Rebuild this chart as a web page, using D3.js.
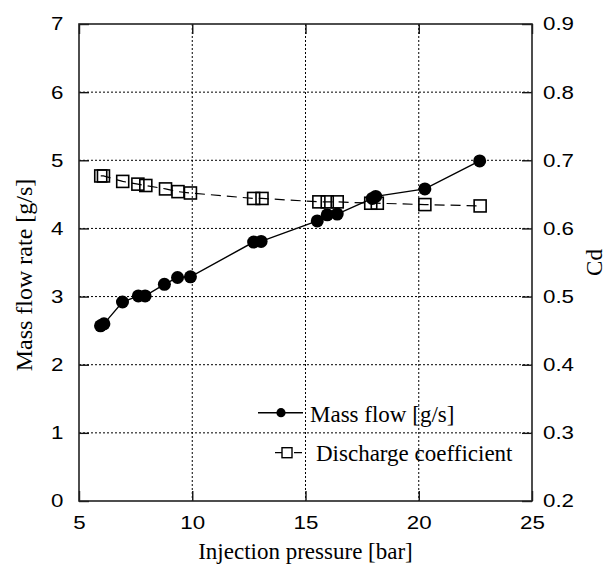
<!DOCTYPE html>
<html>
<head>
<meta charset="utf-8">
<script src="https://cdn.jsdelivr.net/npm/d3@7"></script>
<style>
  html, body { margin: 0; padding: 0; background: #fff; }
  svg { display: block; }
</style>
</head>
<body>
<svg id="chart" width="607" height="564"></svg>
<script>
// ---- data ----
const pressureMass = [5.95, 6.1, 6.92, 7.62, 7.92, 8.77, 9.35, 9.92, 12.71, 13.04, 15.52, 15.96, 16.40, 17.95, 18.10, 20.27, 22.69];
const massFlow     = [2.57, 2.60, 2.92, 3.01, 3.01, 3.18, 3.28, 3.29, 3.80, 3.81, 4.11, 4.20, 4.21, 4.44, 4.47, 4.58, 4.99];
const pressureCd   = [5.96, 6.08, 6.93, 7.60, 7.95, 8.82, 9.37, 9.92, 12.71, 13.08, 15.59, 15.96, 16.40, 17.88, 18.17, 20.27, 22.71];
const dischargeCd  = [0.677, 0.677, 0.669, 0.665, 0.663, 0.658, 0.654, 0.652, 0.644, 0.644, 0.639, 0.639, 0.639, 0.637, 0.637, 0.635, 0.633];
const xTicks  = [5, 10, 15, 20, 25];
const yTicks  = [0, 1, 2, 3, 4, 5, 6, 7];
const y2Ticks = [0.2, 0.3, 0.4, 0.5, 0.6, 0.7, 0.8, 0.9];
const seriesNames = ["Mass flow [g/s]", "Discharge coefficient"];
const xTitle = "Injection pressure [bar]";
const yTitle = "Mass flow rate [g/s]";
const y2Title = "Cd";

// ---- layout ----
const L = 79, R = 532, T = 24, B = 501;
const svg = d3.select("#chart");
const x = d3.scaleLinear().domain([5, 25]).range([L, R]);
const y = d3.scaleLinear().domain([0, 7]).range([B, T]);
const y2 = d3.scaleLinear().domain([0.2, 0.9]).range([B, T]);

const SX = 1.2; // horizontal stretch of tick label glyphs
const tickFont = "'Liberation Sans', Arial, Helvetica, sans-serif";
const serif = "'Liberation Serif', 'Times New Roman', Times, serif";

// grid lines
const grid = svg.append("g").attr("stroke", "#000").attr("stroke-width", 1).attr("stroke-dasharray", "2,2");
grid.selectAll("line.gx").data(xTicks.slice(1, -1)).join("line")
  .attr("x1", d => x(d)).attr("x2", d => x(d)).attr("y1", T).attr("y2", B);
grid.selectAll("line.gy").data(yTicks.slice(1, -1)).join("line")
  .attr("x1", L).attr("x2", R).attr("y1", d => y(d)).attr("y2", d => y(d));

// axes
function styleAxis(g) {
  g.select(".domain").remove();
  g.selectAll(".tick line").attr("stroke", "#111").attr("stroke-width", 1.4);
  g.selectAll(".tick text").attr("fill", "#000")
    .style("font-family", tickFont).style("font-size", "18.6px");
}
const gx = svg.append("g").attr("transform", `translate(0,${B})`)
  .call(d3.axisBottom(x).tickValues(xTicks).tickFormat(d3.format("d")).tickSize(-10).tickPadding(15))
  .call(styleAxis);
gx.selectAll(".tick text").attr("transform", `scale(${SX},1)`);

svg.append("g").attr("transform", `translate(0,${T})`)
  .call(d3.axisTop(x).tickValues(xTicks).tickSize(-10).tickFormat(""))
  .call(styleAxis);

const gy = svg.append("g").attr("transform", `translate(${L},0)`)
  .call(d3.axisLeft(y).tickValues(yTicks).tickFormat(d3.format("d")).tickSize(-10).tickPadding(15))
  .call(styleAxis);
gy.selectAll(".tick text").attr("x", -15.5 / SX).attr("transform", `scale(${SX},1)`);

const gy2 = svg.append("g").attr("transform", `translate(${R},0)`)
  .call(d3.axisRight(y2).tickValues(y2Ticks).tickFormat(d3.format(".1f")).tickSize(-10).tickPadding(11))
  .call(styleAxis);
gy2.selectAll(".tick text").attr("x", 11 / SX).attr("transform", `scale(${SX},1)`);

// series
const massData = pressureMass.map((p, i) => ({ x: p, y: massFlow[i] }));
const cdData = pressureCd.map((p, i) => ({ x: p, y: dischargeCd[i] }));

svg.append("path").datum(cdData)
  .attr("fill", "none").attr("stroke", "#000").attr("stroke-width", 1.2)
  .attr("stroke-dasharray", "10,6")
  .attr("d", d3.line().x(d => x(d.x)).y(d => y2(d.y)));
svg.append("path").datum(massData)
  .attr("fill", "none").attr("stroke", "#000").attr("stroke-width", 1.4)
  .attr("d", d3.line().x(d => x(d.x)).y(d => y(d.y)));

const sq = 12;
svg.append("g").selectAll("rect").data(cdData).join("rect")
  .attr("x", d => x(d.x) - sq / 2).attr("y", d => y2(d.y) - sq / 2)
  .attr("width", sq).attr("height", sq)
  .attr("fill", "none").attr("stroke", "#000").attr("stroke-width", 1.6);
svg.append("g").selectAll("circle").data(massData).join("circle")
  .attr("cx", d => x(d.x)).attr("cy", d => y(d.y)).attr("r", 6.5)
  .attr("fill", "#000");

// frame
svg.append("rect").attr("x", L).attr("y", T).attr("width", R - L).attr("height", B - T)
  .attr("fill", "none").attr("stroke", "#222").attr("stroke-width", 1.6);

// legend
const lg = svg.append("g");
lg.append("line").attr("x1", 258).attr("x2", 303).attr("y1", 412.7).attr("y2", 412.7)
  .attr("stroke", "#000").attr("stroke-width", 1.4);
lg.append("circle").attr("cx", 281).attr("cy", 412.7).attr("r", 4.6).attr("fill", "#000");
lg.append("text").attr("x", 310).attr("y", 421.5).text(seriesNames[0])
  .style("font-family", serif).style("font-size", "23px");
lg.append("line").attr("x1", 275).attr("x2", 304).attr("y1", 452.7).attr("y2", 452.7)
  .attr("stroke", "#000").attr("stroke-width", 1.2).attr("stroke-dasharray", "8,2,0,9,8");
lg.append("rect").attr("x", 282).attr("y", 447.7).attr("width", 10).attr("height", 10)
  .attr("fill", "#fff").attr("stroke", "#000").attr("stroke-width", 1.4);
lg.append("text").attr("x", 316).attr("y", 461).text(seriesNames[1])
  .style("font-family", serif).style("font-size", "23px");

// titles
svg.append("text").attr("x", (L + R) / 2).attr("y", 559).attr("text-anchor", "middle")
  .text(xTitle).style("font-family", serif).style("font-size", "23px");
svg.append("text").attr("transform", `translate(32,275) rotate(-90)`)
  .attr("text-anchor", "middle").text(yTitle)
  .style("font-family", serif).style("font-size", "24px");
svg.append("text").attr("transform", `translate(602,${(T + B) / 2}) rotate(-90)`)
  .attr("text-anchor", "middle").text(y2Title)
  .style("font-family", serif).style("font-size", "23px");
</script>
</body>
</html>
